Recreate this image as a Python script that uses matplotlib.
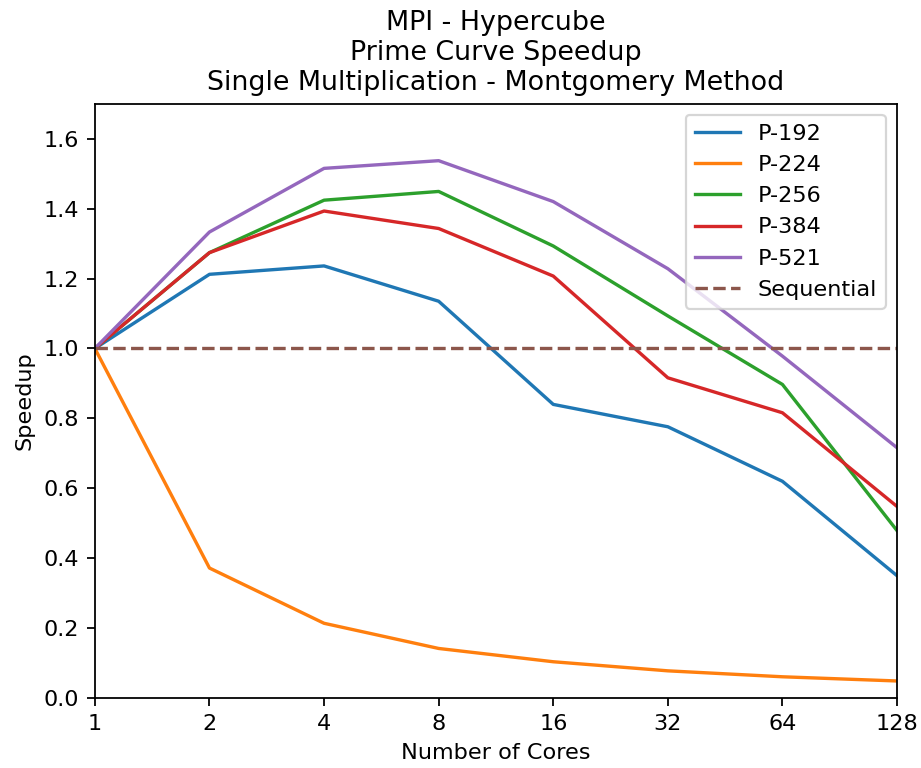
import matplotlib
matplotlib.use("Agg")
import matplotlib.pyplot as plt

cores = [1, 2, 4, 8, 16, 32, 64, 128]
labels = ["P-192", "P-224", "P-256", "P-384", "P-521"]

p192 = [1.0, 1.212, 1.236, 1.135, 0.840, 0.776, 0.620, 0.350]
p224 = [1.0, 0.372, 0.214, 0.142, 0.104, 0.078, 0.061, 0.049]
p256 = [1.0, 1.274, 1.424, 1.449, 1.293, 1.093, 0.897, 0.479]
p384 = [1.0, 1.274, 1.393, 1.343, 1.207, 0.916, 0.816, 0.548]
p521 = [1.0, 1.333, 1.515, 1.537, 1.420, 1.228, 0.978, 0.716]
sequential = [1.0] * len(cores)

DPI = 161


def plot_speedup():
    fig = plt.figure(figsize=(921 / DPI, 768 / DPI), dpi=DPI)
    ax = fig.add_axes([0.103, 0.091, 0.871, 0.774])

    pos = list(range(len(cores)))
    for name, series in zip(labels, [p192, p224, p256, p384, p521]):
        ax.plot(pos, series, label=name)
    ax.plot(pos, sequential, linestyle="--", label="Sequential", color="C5")

    ax.set_xticks(pos)
    ax.set_xticklabels([str(c) for c in cores])
    ax.set_xlim(pos[0], pos[-1])
    ax.set_ylim(0, 1.7)
    ax.set_xlabel("Number of Cores")
    ax.set_ylabel("Speedup")
    ax.set_title("MPI - Hypercube\nPrime Curve Speedup\nSingle Multiplication - Montgomery Method")
    ax.legend(loc="upper right")

    fig.savefig("out.png", dpi=DPI)
    plt.close(fig)


def main():
    plot_speedup()


if __name__ == "__main__":
    main()
